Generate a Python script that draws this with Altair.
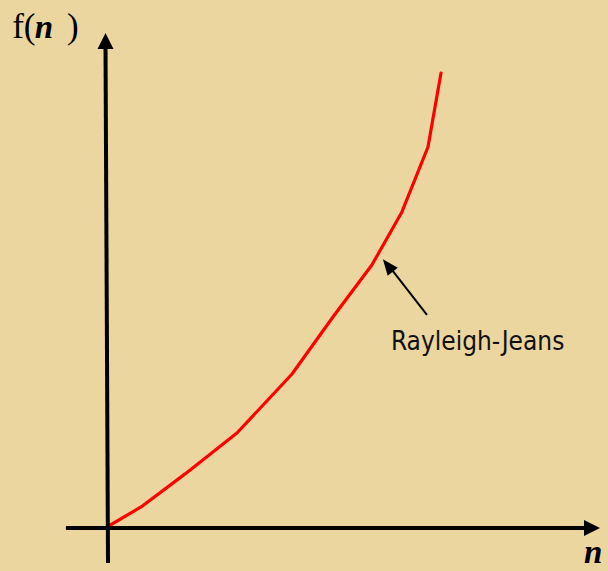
import altair as alt
import pandas as pd

# Rayleigh-Jeans curve (arbitrary units)
curve_x = [0, 1.02, 2.34, 3.89, 5.54, 6.77, 7.93, 8.83, 9.61, 10.0]
curve_y = [0, 4.41, 11.7, 20.7, 33.7, 46.3, 57.7, 69.4, 83.7, 100.0]

# axis shafts and the pointer line: start / end in data units
line_x1 = [0.03, -1.23, 9.58]
line_y1 = [-7.93, -0.22, 46.7]
line_x2 = [-0.045, 14.4, 8.45]
line_y2 = [106.2, -0.22, 57.4]
line_w = [4, 4, 2]

# axis arrowheads: tip position and direction (degrees clockwise from up)
head_x = [-0.045, 14.76]
head_y = [108.8, -0.22]
head_angle = [0, 90]

# pointer arrowhead
ptr_x = [8.26]
ptr_y = [59.0]
ptr_angle = [322]

# labels
label_text = ["Rayleigh-Jeans"]
label_x = [8.50]
label_y = [38.99]

xscale = alt.Scale(domain=[0, 10], range=[107, 441])
yscale = alt.Scale(domain=[0, 100], range=[527, 73])

X = lambda f: alt.X(f, type="quantitative", scale=xscale, axis=None)
Y = lambda f: alt.Y(f, type="quantitative", scale=yscale, axis=None)

curve = pd.DataFrame({"x": curve_x, "y": curve_y})
lines = pd.DataFrame({"x": line_x1, "y": line_y1, "x2": line_x2, "y2": line_y2, "w": line_w})
heads = pd.DataFrame({"x": head_x, "y": head_y, "a": head_angle})
ptr = pd.DataFrame({"x": ptr_x, "y": ptr_y, "a": ptr_angle})
labels = pd.DataFrame({"t": label_text, "x": label_x, "y": label_y})

curve_layer = alt.Chart(curve).mark_line(
    color="#ff0000", strokeWidth=3.2, strokeJoin="round", strokeCap="round", clip=False
).encode(x=X("x"), y=Y("y"), order="x:Q")

rule_layer = alt.Chart(lines).mark_rule(color="#000000", clip=False).encode(
    x=X("x"), y=Y("y"), x2="x2:Q", y2="y2:Q",
    strokeWidth=alt.StrokeWidth("w:Q", scale=None),
)

head_layer = alt.Chart(heads).mark_point(
    shape="M0,0L1,2L-1,2Z", filled=True, color="#000000", opacity=1, size=256, strokeWidth=0
).encode(x=X("x"), y=Y("y"), angle=alt.Angle("a:Q", scale=None))

ptr_layer = alt.Chart(ptr).mark_point(
    shape="M0,0L0.8,2L-0.8,2Z", filled=True, color="#000000", opacity=1, size=256, strokeWidth=0
).encode(x=X("x"), y=Y("y"), angle=alt.Angle("a:Q", scale=None))

label_layer = alt.Chart(labels).mark_text(
    align="left", baseline="alphabetic", font="DejaVu Sans Condensed, Liberation Sans",
    fontSize=26, color="#111111"
).encode(x=X("x"), y=Y("y"), text="t:N")

# axis titles: f(n) on the vertical axis, n on the horizontal axis
title_pieces = pd.DataFrame({
    "t": ["f(", ")"],
    "x": [-2.84, -1.20],
    "y": [107.7, 107.7],
})
title_n = pd.DataFrame({
    "t": ["n", "n"],
    "x": [-2.16, 14.28],
    "y": [107.7, -7.93],
    "s": [33, 33],
})

title_layer = alt.Chart(title_pieces).mark_text(
    align="left", baseline="alphabetic", font="Liberation Serif", fontSize=35, color="#000000"
).encode(x=X("x"), y=Y("y"), text="t:N")

n_layer = alt.Chart(title_n).mark_text(
    align="left", baseline="alphabetic", font="Liberation Serif", fontWeight="bold",
    fontStyle="italic", color="#000000"
).encode(x=X("x"), y=Y("y"), text="t:N", size=alt.Size("s:Q", scale=None))

chart = alt.layer(
    curve_layer, rule_layer, head_layer, ptr_layer, label_layer, title_layer, n_layer
).properties(
    width=608, height=571, background="#EBD6A0", padding=0,
    autosize=alt.AutoSizeParams(type="none"),
).configure_view(stroke=None)

chart.save("out.html", embed_options={"renderer": "svg", "actions": False})
